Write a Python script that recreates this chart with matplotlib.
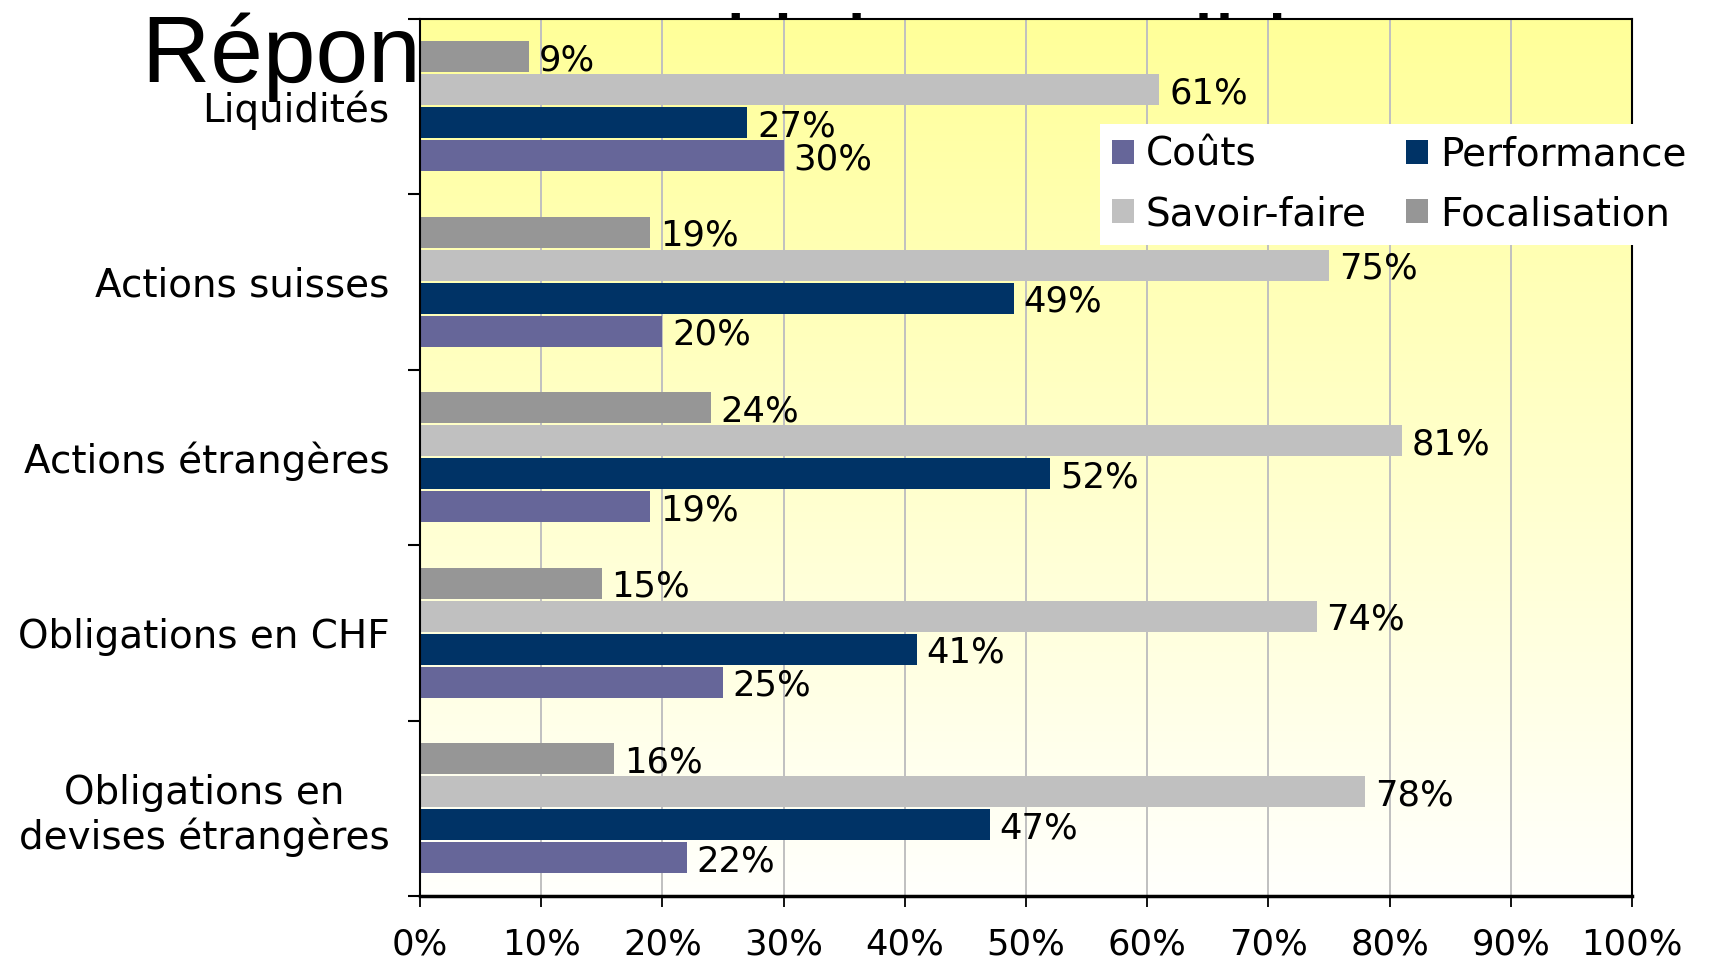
import numpy as np
import matplotlib
matplotlib.use("Agg")
import matplotlib.pyplot as plt
from matplotlib.patches import Patch

# categories, top to bottom as in the chart
categories = ["Liquidités", "Actions suisses", "Actions étrangères",
              "Obligations en CHF", "Obligations en\ndevises étrangères"]

# series values in percent (same order as categories)
couts = [30, 20, 19, 25, 22]
performance = [27, 49, 52, 41, 47]
savoir_faire = [61, 75, 81, 74, 78]
focalisation = [9, 19, 24, 15, 16]

series_names = ["Coûts", "Performance", "Savoir-faire", "Focalisation"]
series_values = [couts, performance, savoir_faire, focalisation]
series_colors = ["#666699", "#003366", "#C0C0C0", "#969696"]

xticks = [0, 10, 20, 30, 40, 50, 60, 70, 80, 90, 100]

plt.rcParams['font.family'] = ['DejaVu Sans']
fs_cat = 28
fs_num = 25.5

fig = plt.figure(figsize=(17.11, 9.6), dpi=100)
ax = fig.add_axes([420 / 1711, 1 - 896 / 960, (1632 - 420) / 1711, (896 - 18.5) / 960])

# title sits behind the plot area, like in the original
fig.text(142 / 1711, 1 - 82 / 960, "Réponses multiples possibles", fontsize=68,
         family='Liberation Sans', va='baseline', ha='left', zorder=-1)

# yellow (top) to white (bottom) gradient background
n = len(categories)
grad = np.linspace(0, 1, 256).reshape(-1, 1)
top = np.array([1.0, 1.0, 0.6])
bottom = np.array([1.0, 1.0, 0.99])
img = top[None, None, :] * (1 - grad[:, :, None]) + bottom[None, None, :] * grad[:, :, None]
ax.imshow(img, extent=[0, 100, -0.5, n - 0.5], origin='upper', aspect='auto', zorder=0)

ypos = np.arange(n)[::-1]  # top category has highest y
pitch = 0.188
height = 0.174
for k, (name, vals, col) in enumerate(zip(series_names, series_values, series_colors)):
    off = (k - 1.5) * pitch
    bars = ax.barh(ypos + off, vals, height=height, color=col, zorder=2, label=name)
    for b, v in zip(bars, vals):
        ax.annotate(f"{v}%", (v, b.get_y() + b.get_height() / 2), xytext=(7, 0),
                    textcoords='offset points', va='center_baseline', ha='left',
                    fontsize=fs_num)

ax.set_xlim(0, 100)
ax.set_ylim(-0.5, n - 0.5)
ax.set_xticks(xticks)
ax.set_xticklabels([f"{t}%" for t in xticks], fontsize=fs_num)
ax.set_yticks(ypos)
ax.set_yticklabels(categories, fontsize=fs_cat, multialignment='center')
ax.set_yticks(np.arange(-0.5, n, 1), minor=True)
ax.tick_params(axis='y', which='major', length=0, pad=22)
ax.tick_params(axis='y', which='minor', length=8.5, width=1.5, direction='out')
ax.tick_params(axis='x', which='major', length=8, width=1.3, direction='out', pad=15)

ax.grid(axis='x', color='#C0C0C0', linewidth=1.4, zorder=1)
ax.set_axisbelow(True)

for s in ['top', 'right', 'left']:
    ax.spines[s].set_linewidth(1.5)
    ax.spines[s].set_color('black')
ax.spines['bottom'].set_linewidth(2.5)

handles = [Patch(facecolor=c, edgecolor='none') for c in series_colors]
# ncol=2 fills column-wise: Coûts, Savoir-faire | Performance, Focalisation
order = [0, 2, 1, 3]
leg = fig.legend([handles[i] for i in order], [series_names[i] for i in order],
                 ncol=2, loc='upper left', bbox_to_anchor=(1100 / 1711, 1 - 124 / 960),
                 borderaxespad=0, fontsize=fs_cat, frameon=True, fancybox=False,
                 handlelength=0.58, handleheight=0.58, handletextpad=0.3,
                 columnspacing=1.0, labelspacing=0.55, borderpad=0.3)
leg.get_frame().set_facecolor('white')
leg.get_frame().set_edgecolor('none')
leg.get_frame().set_alpha(1)

fig.savefig("out.png", dpi=100)
